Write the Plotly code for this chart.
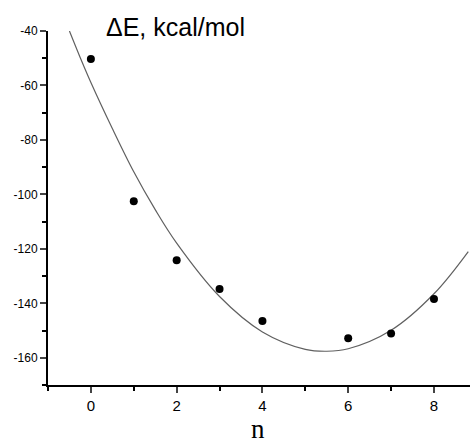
import plotly.graph_objects as go

n_points = [0, 1, 2, 3, 4, 6, 7, 8]
dE_points = [-50.3, -102.5, -124.2, -134.7, -146.5, -152.8, -151.1, -138.4]

fit_n = [-0.5, -0.25, 0, 0.5, 1, 1.5, 2, 3, 4, 5, 5.5, 6, 7, 8, 8.8]
fit_dE = [-40.0, -49.7, -58.9, -75.8, -91.7, -105.6, -117.9, -137.5, -150.5, -156.9, -157.6, -156.7, -149.9, -136.5, -121.0]

x_ticks = [0, 2, 4, 6, 8]
x_labels = ["0", "2", "4", "6", "8"]
y_ticks = [-40, -60, -80, -100, -120, -140, -160]
y_labels = ["-40", "-60", "-80", "-100", "-120", "-140", "-160"]

fig = go.Figure()
fig.add_trace(go.Scatter(x=fit_n, y=fit_dE, mode="lines", line=dict(color="#606060", width=1.2, shape="spline"),
                         showlegend=False, hoverinfo="skip"))
fig.add_trace(go.Scatter(x=n_points, y=dE_points, mode="markers", marker=dict(color="black", size=8),
                         showlegend=False))

fig.update_layout(
    width=470, height=445,
    margin=dict(l=48, r=0, t=31, b=60),
    paper_bgcolor="white", plot_bgcolor="white",
    font=dict(family="Liberation Sans, Arial, sans-serif", color="black"),
    xaxis=dict(range=[-1, 8.84], tickvals=x_ticks, ticktext=x_labels, ticks="outside", ticklen=6, tickwidth=2,
               showline=True, linewidth=2, linecolor="black", showgrid=False, zeroline=False,
               tickfont=dict(size=15),
               minor=dict(dtick=1, tick0=0, ticks="outside", ticklen=4, tickwidth=2, tickcolor="black", showgrid=False)),
    yaxis=dict(range=[-170, -40], tickvals=y_ticks, ticktext=y_labels, ticks="outside", ticklen=6, tickwidth=2,
               showline=True, linewidth=2, linecolor="black", showgrid=False, zeroline=False,
               tickfont=dict(size=12),
               minor=dict(dtick=10, tick0=0, ticks="outside", ticklen=4, tickwidth=2, tickcolor="black", showgrid=False)),
)
fig.add_annotation(text="ΔE, kcal/mol", xref="paper", yref="paper", x=0.133, y=1.012, xanchor="left", yanchor="middle",
                   align="left", showarrow=False, font=dict(size=25))
fig.add_annotation(text="n", xref="paper", yref="paper", x=0.497, y=-0.075, xanchor="center", yanchor="top",
                   showarrow=False, font=dict(size=27, family="Liberation Serif, Times New Roman, serif"))

fig.write_html("out.html")
